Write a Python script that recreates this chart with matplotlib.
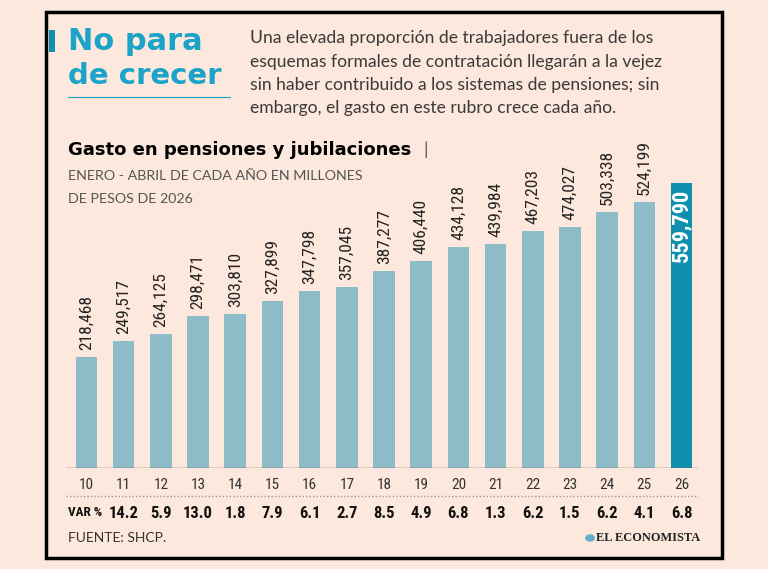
import matplotlib
matplotlib.use("Agg")
import matplotlib.pyplot as plt
from matplotlib.patches import Rectangle
from matplotlib.lines import Line2D
from matplotlib import font_manager
from matplotlib.font_manager import FontProperties

years = ["10", "11", "12", "13", "14", "15", "16", "17", "18", "19", "20", "21", "22", "23", "24", "25", "26"]
values = [218468, 249517, 264125, 298471, 303810, 327899, 347798, 357045, 387277, 406440,
          434128, 439984, 467203, 474027, 503338, 524199, 559790]
var_pct = ["", "14.2", "5.9", "13.0", "1.8", "7.9", "6.1", "2.7", "8.5", "4.9",
           "6.8", "1.3", "6.2", "1.5", "6.2", "4.1", "6.8"]

files = [f for f in font_manager.fontManager.ttflist]
def pick(keys, bold):
    for key in keys:
        for f in files:
            fn = f.fname.replace("-", "").replace("_", "").lower()
            if key in fn:
                isb = "bold" in fn and "semibold" not in fn and "extrabold" not in fn
                if bold == isb and "italic" not in fn and "oblique" not in fn \
                        and "light" not in fn and "thin" not in fn and "medium" not in fn \
                        and "black" not in fn:
                    return f.fname
    return None

cond_keys = ["robotocondensed", "opensanscondensed", "liberationsansnarrow", "dejavusanscondensed"]
reg_file = None
bold_file = None
for key in cond_keys:
    r = pick([key], False)
    b = pick([key], True)
    if r and b:
        reg_file, bold_file = r, b
        break

def nfont(size, bold=False):
    f = bold_file if bold else reg_file
    if f:
        return FontProperties(fname=f, size=size)
    return FontProperties(family="DejaVu Sans", size=size * 0.85,
                          weight="bold" if bold else "normal")

names = {f.name for f in files}
light = "Lato" if "Lato" in names else "DejaVu Sans"

W, H = 768, 569
BG = "#fce8dc"
BAR = "#8fbcc9"
HL = "#1190ae"
CYAN = "#1ba3c9"

fig = plt.figure(figsize=(W / 100, H / 100), dpi=100, facecolor=BG)

def fx(px):
    return px / W

def fy(py):
    return 1 - py / H

fig.patches.append(Rectangle((fx(46), fy(558)), fx(722) - fx(46), fy(12) - fy(558),
                             transform=fig.transFigure, fill=False, edgecolor="black", lw=2.5))
fig.patches.append(Rectangle((fx(49), fy(52)), fx(6), fy(30) - fy(52),
                             transform=fig.transFigure, color="#1190ae", lw=0))

fig.text(fx(68), fy(42), "No para", color=CYAN, fontsize=22, fontweight="bold",
         family="DejaVu Sans", va="center", ha="left")
fig.text(fx(68), fy(76), "de crecer", color=CYAN, fontsize=21, fontweight="bold",
         family="DejaVu Sans", va="center", ha="left")
fig.lines.append(Line2D([fx(68), fx(230)], [fy(97), fy(97)], transform=fig.transFigure,
                        color=CYAN, lw=0.8))

para = ["Una elevada proporción de trabajadores fuera de los",
        "esquemas formales de contratación llegarán a la vejez",
        "sin haber contribuido a los sistemas de pensiones; sin",
        "embargo, el gasto en este rubro crece cada año."]
for i, line in enumerate(para):
    fig.text(fx(250), fy(38 + i * 23.5), line, color="#3a3a3a", fontsize=12.6,
             family=light, va="center", ha="left")

fig.text(fx(68), fy(150), "Gasto en pensiones y jubilaciones", color="black", fontsize=13,
         fontweight="bold", family="DejaVu Sans", va="center", ha="left")
fig.text(fx(423), fy(150), "|", color="#555555", fontsize=13, family=light, va="center", ha="left")
fig.text(fx(68), fy(176), "ENERO - ABRIL DE CADA AÑO EN MILLONES", color="#555555", fontsize=10.3,
         family=light, va="center", ha="left")
fig.text(fx(68), fy(199), "DE PESOS DE 2026", color="#555555", fontsize=10.3,
         family=light, va="center", ha="left")

x0_px, x1_px = 66, 698
c0, step = 86.5, 37.19
xmin = (x0_px - c0) / step
xmax = (x1_px - c0) / step
top_px = 140
per_px = 1967.5
ymax = (468 - top_px) * per_px
ax = fig.add_axes([fx(x0_px), fy(468), fx(x1_px) - fx(x0_px), fy(top_px) - fy(468)])
ax.set_facecolor("none")
ax.set_xlim(xmin, xmax)
ax.set_ylim(0, ymax)
for s in ax.spines.values():
    s.set_visible(False)
ax.set_xticks([])
ax.set_yticks([])

pos = list(range(len(values)))
colors = [BAR] * (len(values) - 1) + [HL]
ax.bar(pos, values, width=21.6 / step, color=colors, lw=0)
ax.axhline(0, color="#555555", lw=1)

for i, v in enumerate(values):
    lab = f"{v:,}"
    if i == len(values) - 1:
        ax.annotate(lab, (i, v), xytext=(0, -4), textcoords="offset points", rotation=90,
                    ha="center", va="top", color="white", fontproperties=nfont(16, True))
    else:
        ax.annotate(lab, (i, v), xytext=(0, 5), textcoords="offset points", rotation=90,
                    ha="center", va="bottom", color="#222222", fontproperties=nfont(12.5))

for i, y in enumerate(years):
    xp = c0 + i * step
    fig.text(fx(xp), fy(485), y, ha="center", va="center", fontproperties=nfont(11),
             color="#333333")
    if var_pct[i]:
        fig.text(fx(xp), fy(513), var_pct[i], ha="center", va="center",
                 fontproperties=nfont(12, True), color="#111111")
fig.text(fx(68), fy(513), "VAR %", ha="left", va="center", fontproperties=nfont(9.5, True),
         color="#111111")
fig.lines.append(Line2D([fx(66), fx(698)], [fy(496), fy(496)], transform=fig.transFigure,
                        color="#999999", lw=1, ls=(0, (1, 1.5))))

fig.text(fx(68), fy(538), "FUENTE: SHCP.", ha="left", va="center", fontsize=10, family=light,
         color="#333333")
fig.text(fx(700), fy(538), "EL ECONOMISTA", ha="right", va="center", fontsize=8.9,
         family="Liberation Serif", fontweight="bold", color="#222222")
fig.patches.append(plt.Circle((fx(590), fy(538)), 0.0065, transform=fig.transFigure,
                              color="#5fb0cc", lw=0))

fig.savefig("out.png", dpi=100, facecolor=BG)
